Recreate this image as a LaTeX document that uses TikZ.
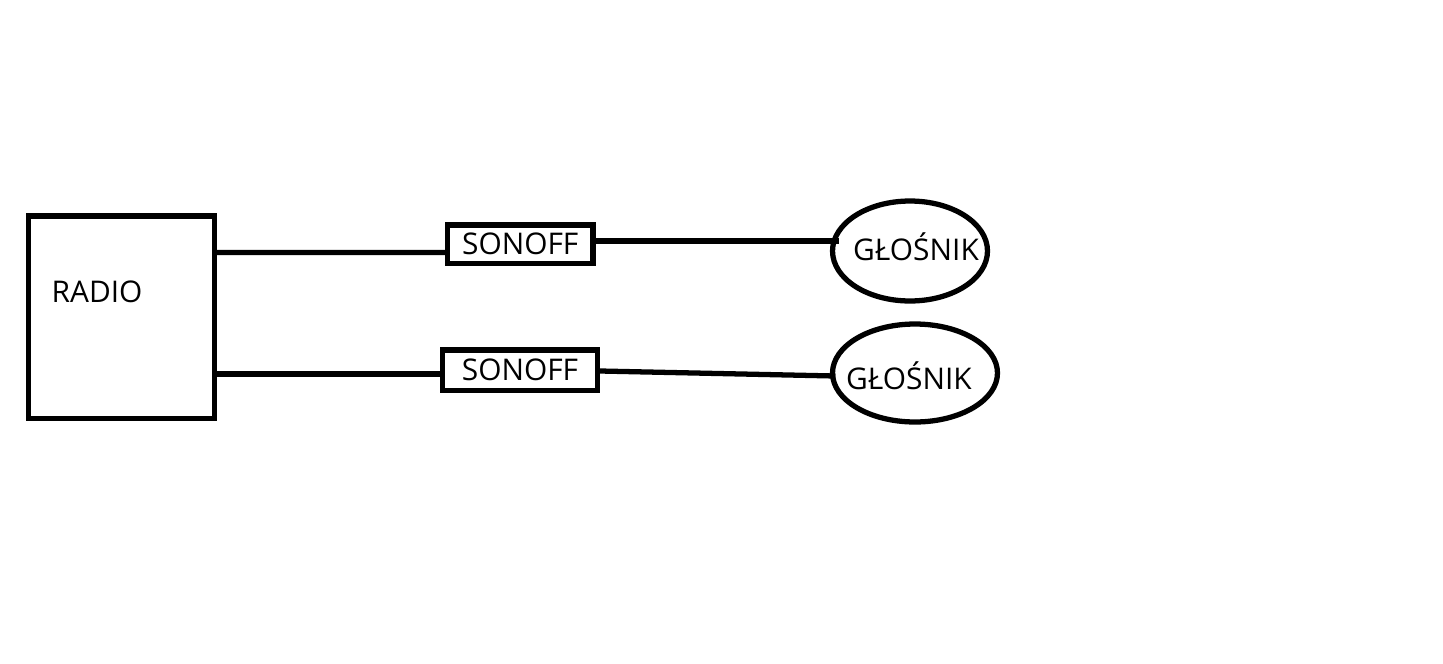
\documentclass[tikz,border=0pt]{standalone}
\usepackage{fontspec}
\setmainfont{Open Sans}
\usetikzlibrary{shapes.geometric}
\tikzstyle{box}=[rectangle, draw, line width=3pt, inner sep=0pt]
\tikzstyle{speaker}=[ellipse, draw, line width=3pt, inner sep=0pt]
\tikzstyle{txt}=[font=\fontsize{17pt}{20pt}\selectfont, inner sep=0pt]
\newcommand{\wire}{\draw[line width=3pt]}

\begin{document}
\begin{tikzpicture}[x=0.02cm,y=-0.02cm]
	\useasboundingbox (0,0) rectangle (1443,663);
	%% the boxes
	\node[box, minimum width=3.72cm, minimum height=4.05cm] (radio) at (121.5,317.25) {};
	\node[txt] (radiotext) at (97,292) {RADIO};
	\node[box, txt, minimum width=2.91cm, minimum height=0.77cm] (sonA) at (520.25,244.25) {SONOFF};
	\node[box, txt, minimum width=3.1cm, minimum height=0.81cm] (sonB) at (520,370.25) {SONOFF};
	%% the speakers
	\node[speaker, minimum width=3.1cm, minimum height=2.0cm] (gloA) at (910,251) {};
	\node[txt] (gloAtext) at (916,247) {GŁOŚNIK};
	\node[speaker, minimum width=3.3cm, minimum height=1.96cm] (gloB) at (915,373) {};
	\node[txt] (gloBtext) at (909,376) {GŁOŚNIK};
	%% for the wires
	\wire ([shift={(0,-64.75)}]radio.east) -- ([shift={(0,8.25)}]sonA.west);
	\wire ([shift={(0,-3.25)}]sonA.east) -- ([shift={(9.5,-10)}]gloA.west);
	\wire ([shift={(0,56.75)}]radio.east) -- ([shift={(0,3.75)}]sonB.west);
	\wire ([shift={(0,0.75)}]sonB.east) -- ([shift={(5.5,3)}]gloB.west);
\end{tikzpicture}
\end{document}
